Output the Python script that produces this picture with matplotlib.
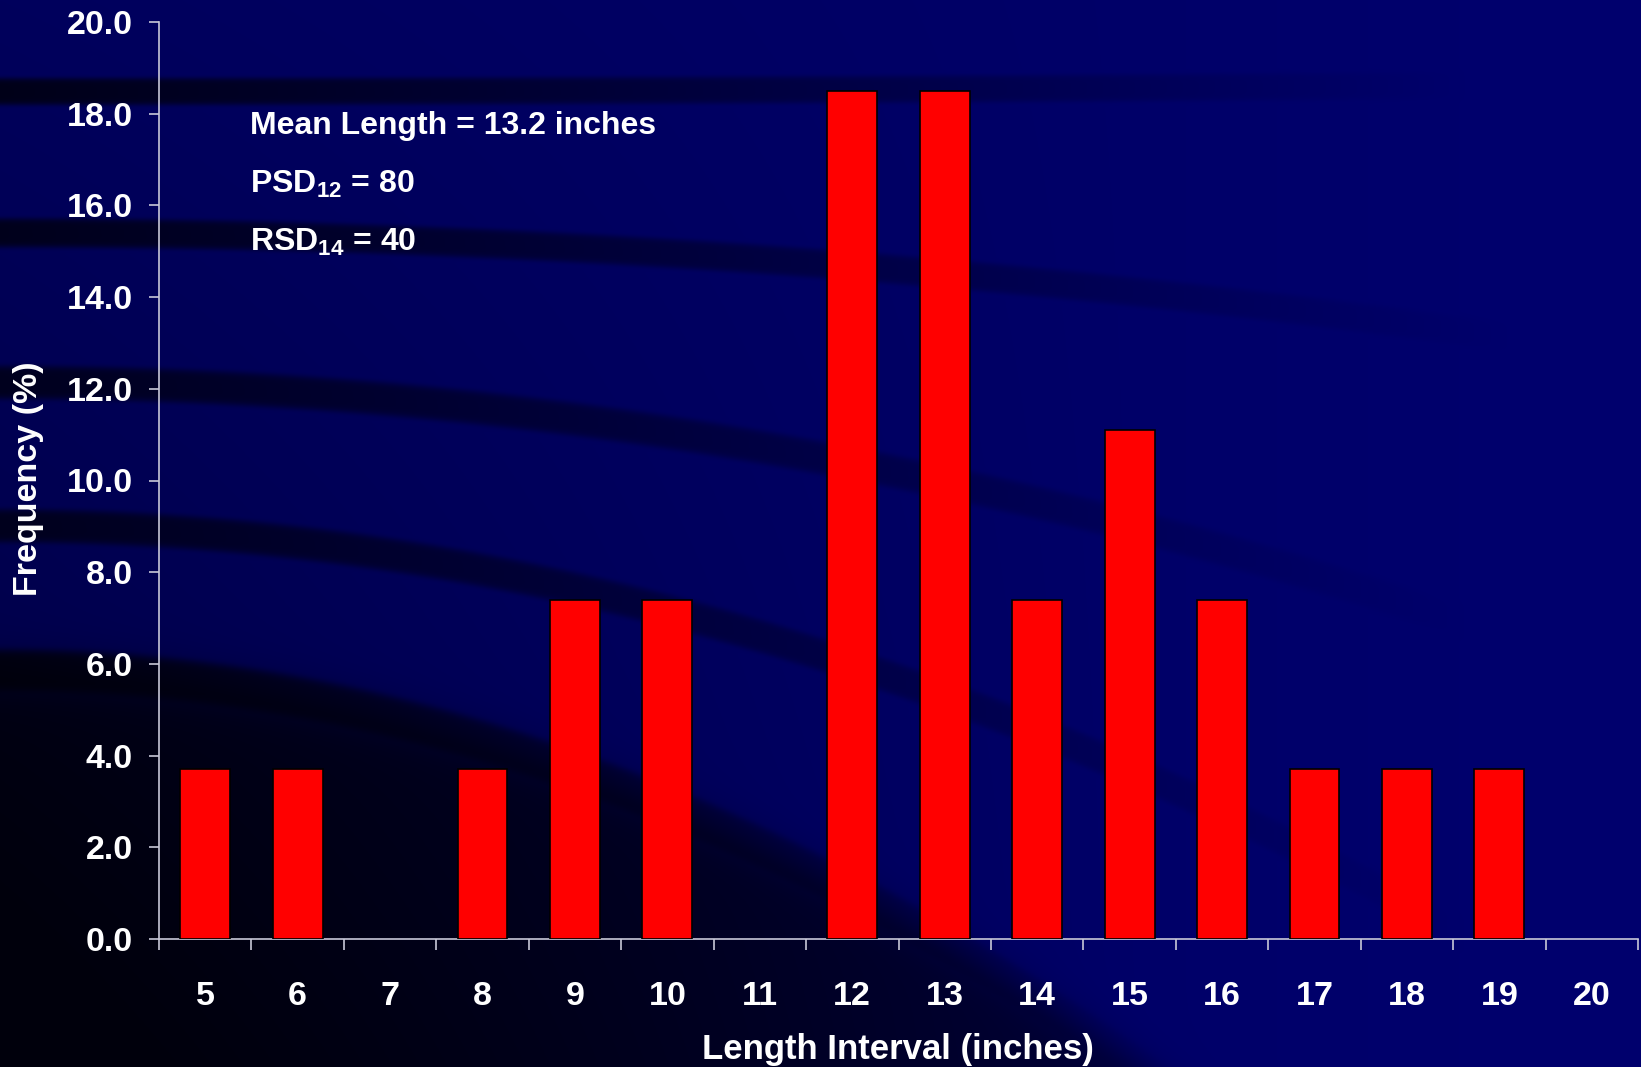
import numpy as np
import matplotlib
matplotlib.use("Agg")
import matplotlib.pyplot as plt

# ---------------- data ----------------
length_intervals = ["5", "6", "7", "8", "9", "10", "11", "12", "13", "14",
                    "15", "16", "17", "18", "19", "20"]
frequency_pct = [3.7, 3.7, 0.0, 3.7, 7.4, 7.4, 0.0, 18.5, 18.5, 7.4,
                 11.1, 7.4, 3.7, 3.7, 3.7, 0.0]
y_ticks = [0, 2, 4, 6, 8, 10, 12, 14, 16, 18, 20]
y_tick_labels = ["0.0", "2.0", "4.0", "6.0", "8.0", "10.0", "12.0", "14.0",
                 "16.0", "18.0", "20.0"]
x_label = "Length Interval (inches)"
y_label = "Frequency (%)"
notes = ["Mean Length = 13.2 inches",
         r"PSD$_{\mathbf{12}}$ = 80",
         r"RSD$_{\mathbf{14}}$ = 40"]

# ---------------- style ----------------
plt.rcParams['font.family'] = ['Liberation Sans', 'DejaVu Sans']
plt.rcParams['font.weight'] = 'bold'
plt.rcParams['mathtext.fontset'] = 'custom'
plt.rcParams['mathtext.rm'] = 'Liberation Sans'
plt.rcParams['mathtext.bf'] = 'Liberation Sans:bold'

W, H = 1641, 1067
fig = plt.figure(figsize=(W / 100, H / 100), dpi=100)

# ---------------- decorative background ----------------
s = W / 1568.0
yy, xx = np.mgrid[0:H, 0:W].astype(float)
xs, ys = xx / s, yy / s
base = 84 + 18 * (xs / 1568.0)

def band(y0, k, thick, xend, strength):
    yc = y0 + k * xs ** 2
    prof = np.exp(-np.abs((ys - yc) / (thick / 2.0)) ** 6)
    fade = np.clip(1 - xs / xend, 0, 1) ** 1.0
    return strength * prof * fade

Ds = [
    band(87, -3e-6, 26, 1400, 0.8),
    band(222, 4.8e-5, 28, 1450, 0.75),
    band(365, 1.17e-4, 32, 1400, 0.7),
    band(502, 2.0e-4, 32, 1400, 0.7),
    band(640, 3.2e-4, 40, 1150, 0.85),
]
edge = 640 + 3.2e-4 * xs ** 2
region = 1 / (1 + np.exp(-(ys - edge) / 12.0))
dreg = region * np.clip(0.55 + 0.45 * (1 - xs / 1000.0) * (ys / 1020.0), 0, 0.93)
Ds.append(dreg)
gen = 0.3 * np.clip(1 - xs / 1100.0, 0, 1) * np.clip(ys / 1020.0, 0, 1)
Ds.append(gen)
keep = np.ones_like(xs)
for d in Ds:
    keep *= (1 - np.clip(d, 0, 1))
B = np.clip(base * keep + 8, 0, 255)
img = np.zeros((H, W, 3))
img[..., 2] = B / 255.0

bg = fig.add_axes([0, 0, 1, 1], zorder=0)
bg.imshow(img, aspect='auto', extent=(0, 1, 0, 1), interpolation='bilinear')
bg.set_axis_off()

# ---------------- main axes ----------------
left_px, right_px, bot_px, top_px = 159, 1638, 939, 22
ax = fig.add_axes([left_px / W, 1 - bot_px / H,
                   (right_px - left_px) / W, (bot_px - top_px) / H], zorder=1)
ax.patch.set_alpha(0)

x = np.arange(len(length_intervals))
edge_w = [1.2 if v > 0 else 0.0 for v in frequency_pct]
ax.bar(x, frequency_pct, width=0.54, color='#FF0000', edgecolor='black',
       linewidth=edge_w, zorder=3)

ax.set_xlim(-0.5, len(length_intervals) - 0.5)
ax.set_ylim(0, 20)

spine_col = '#C8C8D8'
for side in ['top', 'right']:
    ax.spines[side].set_visible(False)
for side in ['left', 'bottom']:
    ax.spines[side].set_color(spine_col)
    ax.spines[side].set_linewidth(1.2)

ax.set_yticks(y_ticks)
ax.set_yticklabels(y_tick_labels)
ax.tick_params(axis='y', direction='out', length=7, width=1.2, color=spine_col,
               labelsize=24.5, labelcolor='white', pad=12)

ax.set_xticks(np.arange(-0.5, len(length_intervals) + 0.5, 1.0))
ax.set_xticklabels([])
ax.tick_params(axis='x', which='major', direction='out', length=8, width=1.2,
               color=spine_col)
ax.set_xticks(x, minor=True)
ax.set_xticklabels(length_intervals, minor=True)
ax.tick_params(axis='x', which='minor', length=0, labelsize=24.5,
               labelcolor='white', pad=30)
for lab in ax.get_xticklabels(minor=True) + ax.get_yticklabels():
    lab.set_fontweight('bold')

# axis titles
fig.text(898 / W, 1 - 1050 / H, x_label, color='white', fontsize=25,
         fontweight='bold', ha='center', va='center')
fig.text(29 / W, 1 - 479 / H, y_label, color='white', fontsize=24.5,
         fontweight='bold', ha='center', va='center', rotation=90)

# annotations
for txt, yc in zip(notes, [126, 184, 242]):
    fig.text(250 / W, 1 - yc / H, txt, color='white', fontsize=23,
             fontweight='bold', ha='left', va='center')

fig.savefig("out.png", dpi=100)
